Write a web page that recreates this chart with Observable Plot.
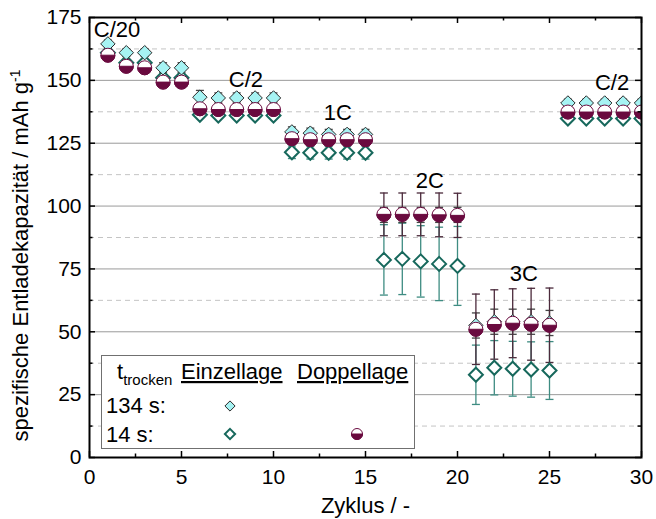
<!DOCTYPE html>
<html><head><meta charset="utf-8">
<script src="https://cdn.jsdelivr.net/npm/d3@7"></script>
<script src="https://cdn.jsdelivr.net/npm/@observablehq/plot@0.6"></script>
<style>
body{margin:0;background:#fff;}
#wrap{position:relative;width:656px;height:519px;font-family:"Liberation Sans",Arial,sans-serif;}
#wrap svg{display:block;}
#legend{position:absolute;left:0;top:0;pointer-events:none;}
</style></head><body><div id="wrap"></div>
<script>
// ---- data ----
const cycles   = [1,2,3,4,5,6,7,8,9,10,11,12,13,14,15,16,17,18,19,20,21,22,23,24,25,26,27,28,29,30];
// Einzellage, t_trocken = 134 s
const ein134    = [164.5,161,161,155,155,143.3,143,143,143,143,129.5,129,128.5,128.5,128.5,96.5,96.5,96.5,96.5,96.5,52.5,54,54,54,53.5,141,141,141,141,141];
const ein134Err = [1.5,1.5,1.5,2,2,2.7,2,2,2,2,2,2,2,2,2,3,3,3,3,3,5,5,5,5,5,1.5,1.5,1.5,1.5,1.5];
// Einzellage, t_trocken = 14 s
const ein14     = [161,157,157,151,151,136.3,136,136,136,136,121.4,121.2,121.2,121.2,121.2,78.6,79,78,77,76.2,32.9,35.7,35.3,35,34.6,134.8,134.8,134.8,134.8,134.8];
const ein14Err  = [1,1,1,1,1,1,1,1,1,1,2.5,2.5,2.5,2.5,2.5,14,14.2,14.2,14.6,15.7,11.8,10.8,10.9,11,11.5,1,1,1,1,1];
// Doppellage, t_trocken = 14 s
const dop14     = [160,155.6,155,149.3,149.3,138.7,138.4,138.4,138.4,138.4,126.8,126.4,126.4,126.4,126.4,96.7,96.7,96.7,96.5,96.3,51,52.9,53.4,53,52.6,137.4,137.4,137.4,137.4,137.4];
const dop14Err  = [1.5,1.5,1.5,1.5,1.5,1.5,1.5,1.5,1.5,1.5,1.5,1.5,1.5,1.5,1.5,8.5,8.5,8.5,8.7,8.8,14,13.8,13.7,14.3,14.8,1.5,1.5,1.5,1.5,1.5];
// C-rate annotations
const rateLabels = ["C/20","C/2","1C","2C","3C","C/2"];
const rateX      = [1.5,8.5,13.5,18.5,23.6,28.4];
const rateY      = [170,150,137,110,73,149];
// ticks
const xMajor = [0,5,10,15,20,25,30];
const xMinor = [2.5,7.5,12.5,17.5,22.5,27.5];
const yMajor = [0,25,50,75,100,125,150,175];
const yMinor = [12.5,37.5,62.5,87.5,112.5,137.5,162.5];
const gridSolid  = [25,50,75,100,125,150];
const gridDashed = [12.5,37.5,62.5,87.5,112.5,137.5,162.5];
const xTitle = "Zyklus / -";
const yTitleMain = "spezifische Entladekapazität / mAh g";
const yTitleSup = "-1";

// ---- colours ----
const cCyan = "#a6f3f3", cCyanStroke = "#2a2a2a";
const cTeal = "#17685c", cTealBar = "#3e8c82";
const cMaroon = "#6a0a3f", cMaroonBar = "#4b2a3b";

const rows = cycles.map((c,i)=>({c, a:ein134[i], ae:ein134Err[i], b:ein14[i], be:ein14Err[i], d:dop14[i], de:dop14Err[i]}));

const halfBottom = {draw(ctx,size){const r=Math.sqrt(size/Math.PI); ctx.moveTo(r,0); ctx.arc(0,0,r,0,Math.PI); ctx.closePath();}};
const cap = {draw(ctx,size){const r=Math.sqrt(size/Math.PI); ctx.moveTo(-r,0); ctx.lineTo(r,0);}};

function errMarks(v, e, color){
  return [
    Plot.ruleX(rows, {x:"c", y1:d=>d[v]-d[e], y2:d=>d[v]+d[e], stroke:color, strokeWidth:1.3, clip:true}),
    Plot.dot(rows, {x:"c", y:d=>d[v]+d[e], symbol:cap, r:4, stroke:color, fill:"none", strokeWidth:1.3, clip:true}),
    Plot.dot(rows, {x:"c", y:d=>d[v]-d[e], symbol:cap, r:4, stroke:color, fill:"none", strokeWidth:1.3, clip:true})
  ];
}

const W=656, H=519, ML=89, MR=15, MT=17, MB=62;
const FW = W-ML-MR, FH = H-MT-MB;
const fnt = "'Liberation Sans', Arial, sans-serif";
const tk = {stroke:"black", strokeWidth:1.5};
const chart = Plot.plot({
  width:W, height:H,
  marginLeft:ML, marginRight:MR, marginTop:MT, marginBottom:MB,
  x:{domain:[0,30]}, y:{domain:[0,175]},
  style:{fontFamily:fnt, fontSize:"21px", color:"black", background:"white", overflow:"visible"},
  marks:[
    Plot.gridY(gridDashed, {stroke:"#c4c4c4", strokeOpacity:1, strokeDasharray:"5,4"}),
    Plot.gridY(gridSolid, {stroke:"#9a9a9a", strokeOpacity:1}),
    ...errMarks("b","be",cTealBar),
    ...errMarks("a","ae","#444"),
    ...errMarks("d","de",cMaroonBar),
    Plot.dot(rows, {x:"c", y:"b", symbol:"diamond2", r:6.3, fill:"white", stroke:cTeal, strokeWidth:2, clip:true}),
    Plot.dot(rows, {x:"c", y:"a", symbol:"diamond2", r:6.5, fill:cCyan, stroke:cCyanStroke, strokeWidth:1, clip:true}),
    Plot.dot(rows, {x:"c", y:"d", symbol:"circle", r:7, fill:"white", stroke:cMaroon, strokeWidth:1, clip:true}),
    Plot.dot(rows, {x:"c", y:"d", symbol:halfBottom, r:7, fill:cMaroon, stroke:cMaroon, strokeWidth:1, clip:true}),
    Plot.text(rateLabels, {x:(d,i)=>rateX[i], y:(d,i)=>rateY[i], text:d=>d, fontSize:22, textAnchor:"middle", lineAnchor:"middle", fill:"black"}),
    // inward ticks on all four sides
    Plot.ruleX(xMajor, {...tk, insetTop:FH-6}),
    Plot.ruleX(xMinor, {...tk, insetTop:FH-3.5}),
    Plot.ruleX(xMajor, {...tk, insetBottom:FH-6}),
    Plot.ruleX(xMinor, {...tk, insetBottom:FH-3.5}),
    Plot.ruleY(yMajor, {...tk, insetRight:FW-6}),
    Plot.ruleY(yMinor, {...tk, insetRight:FW-3.5}),
    Plot.ruleY(yMajor, {...tk, insetLeft:FW-6}),
    Plot.ruleY(yMinor, {...tk, insetLeft:FW-3.5}),
    Plot.frame({stroke:"black", strokeWidth:2}),
    Plot.axisX(xMajor, {anchor:"bottom", tickSize:0, tickPadding:12, fontSize:21, tickFormat:d=>d, label:null}),
    Plot.axisY(yMajor, {anchor:"left", tickSize:0, tickPadding:8, fontSize:21, tickFormat:d=>d, label:null}),
    Plot.text([xTitle], {frameAnchor:"bottom", dy:40, text:d=>d, fontSize:22, textAnchor:"middle", lineAnchor:"top", fill:"black"}),
    Plot.text([yTitleMain], {frameAnchor:"left", dx:-69, dy:18, rotate:-90, text:d=>d, fontSize:22, textAnchor:"middle", lineAnchor:"middle", fill:"black"})
  ]
});
const wrap = document.getElementById("wrap");
wrap.appendChild(chart);

// superscript on y title
d3.select(chart).selectAll("text").filter(function(){return this.textContent===yTitleMain;})
  .append("tspan").attr("dy","-8").attr("font-size",14).text(yTitleSup);

// ---- legend (overlay) ----
const lg = d3.select(wrap).append("svg").attr("id","legend").attr("width",W).attr("height",H)
  .style("font-family",fnt);
lg.append("rect").attr("x",101.5).attr("y",355.5).attr("width",313).attr("height",93)
  .attr("fill","white").attr("stroke","#707070").attr("stroke-width",1);
const tt = lg.append("text").attr("x",117).attr("y",379).attr("font-size",22).text("t");
tt.append("tspan").attr("font-size",15).attr("dy",6).text("trocken");
lg.append("text").attr("x",181).attr("y",379).attr("font-size",22).attr("text-decoration","underline").text("Einzellage");
lg.append("text").attr("x",297).attr("y",379).attr("font-size",22).attr("text-decoration","underline").text("Doppellage");
lg.append("text").attr("x",106).attr("y",413).attr("font-size",22).text("134 s:");
lg.append("text").attr("x",106).attr("y",442).attr("font-size",22).text("14 s:");
const dia = d3.symbol(d3.symbolDiamond2, Math.PI*4.6*4.6)();
lg.append("path").attr("d",dia).attr("transform","translate(230,406)").attr("fill",cCyan).attr("stroke",cCyanStroke).attr("stroke-width",1);
lg.append("path").attr("d",dia).attr("transform","translate(230,434)").attr("fill","white").attr("stroke",cTeal).attr("stroke-width",2);
lg.append("circle").attr("cx",357).attr("cy",434).attr("r",5.5).attr("fill","white").attr("stroke",cMaroon);
lg.append("path").attr("d",d3.symbol(halfBottom, Math.PI*5.5*5.5)()).attr("transform","translate(357,434)").attr("fill",cMaroon).attr("stroke",cMaroon);
</script></body></html>
